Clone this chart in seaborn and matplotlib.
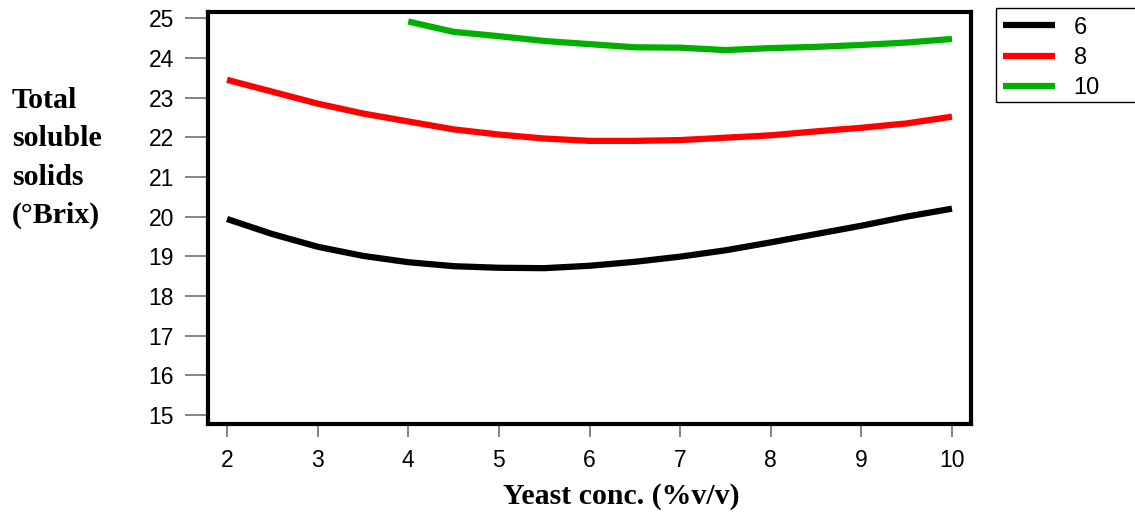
import numpy as np
import pandas as pd
import matplotlib
matplotlib.use("Agg")
import matplotlib.pyplot as plt
from matplotlib.patches import Rectangle
import seaborn as sns

# ---- data ----
x_full = [2, 2.5, 3, 3.5, 4, 4.5, 5, 5.5, 6, 6.5, 7, 7.5, 8, 8.5, 9, 9.5, 10]
tss_6 = [19.94, 19.56, 19.24, 19.01, 18.85, 18.75, 18.71, 18.70, 18.76, 18.86,
         18.99, 19.15, 19.35, 19.56, 19.77, 20.00, 20.20]
tss_8 = [23.45, 23.15, 22.85, 22.60, 22.40, 22.20, 22.07, 21.97, 21.91, 21.91,
         21.93, 21.99, 22.05, 22.15, 22.24, 22.35, 22.52]
x_10 = [4, 4.5, 5, 5.5, 6, 6.5, 7, 7.5, 8, 8.5, 9, 9.5, 10]
tss_10 = [24.92, 24.66, 24.55, 24.43, 24.35, 24.27, 24.26, 24.20, 24.25, 24.28,
          24.33, 24.39, 24.48]
series_labels = ["6", "8", "10"]
x_ticks = [2, 3, 4, 5, 6, 7, 8, 9, 10]
y_ticks = [15, 16, 17, 18, 19, 20, 21, 22, 23, 24, 25]
x_label = "Yeast conc. (%v/v)"
y_label = "Total\nsoluble\nsolids\n(°Brix)"

df = pd.concat([
    pd.DataFrame({"x": x_full, "y": tss_6, "s": series_labels[0]}),
    pd.DataFrame({"x": x_full, "y": tss_8, "s": series_labels[1]}),
    pd.DataFrame({"x": x_10, "y": tss_10, "s": series_labels[2]}),
])

sns.set_style("white")
plt.rcParams["font.family"] = ["Liberation Sans", "DejaVu Sans"]
plt.rcParams["text.color"] = "black"

fig = plt.figure(figsize=(11.35, 5.19), dpi=100)
ax = fig.add_axes([208 / 1135, 1 - 424 / 519, (971 - 208) / 1135, (424 - 12) / 519])

palette = {"6": "#000000", "8": "#ff0000", "10": "#00b000"}
sns.lineplot(data=df, x="x", y="y", hue="s", hue_order=series_labels,
             palette=palette, linewidth=4.5, ax=ax, legend=True,
             solid_capstyle="butt")

ax.set_xlim(1.79, 10.21)
ax.set_ylim(14.77, 25.16)
ax.set_xticks(x_ticks)
ax.set_yticks(y_ticks)
ax.set_xticklabels([str(v) for v in x_ticks])
ax.set_yticklabels([str(v) for v in y_ticks])
ax.set_xlabel("")
ax.set_ylabel("")

for sp in ax.spines.values():
    sp.set_visible(True)
    sp.set_color("black")
    sp.set_linewidth(3)

ax.tick_params(axis="y", which="major", direction="out", length=16.5, width=1.2,
               color="#707070", labelsize=16.5, pad=8, labelcolor="black", left=True)
ax.tick_params(axis="x", which="major", direction="out", length=9.5, width=1.2,
               color="#707070", labelsize=16.5, pad=8.5, labelcolor="black", bottom=True)

# legend
handles, labels = ax.get_legend_handles_labels()
leg = ax.legend(handles, labels, loc="upper left",
                bbox_to_anchor=(998 / 1135, 1 - 12 / 519),
                bbox_transform=fig.transFigure, frameon=False,
                fontsize=17, handlelength=2.2, handletextpad=0.8,
                labelspacing=0.35, borderpad=0.2, borderaxespad=0)
for line in leg.get_lines():
    line.set_linewidth(4.5)
fig.add_artist(Rectangle((996 / 1135, 1 - 102 / 519), 150 / 1135, 94 / 519,
                         transform=fig.transFigure, fill=False,
                         edgecolor="black", linewidth=1, clip_on=False))

# axis titles
serif = ["Liberation Serif", "DejaVu Serif"]
fig.text(12 / 1135, 1 - 158 / 519, y_label, ha="left", va="center",
         fontsize=21.5, fontweight="bold", family=serif, linespacing=1.55)
fig.text(621 / 1135, 1 - 497 / 519, x_label, ha="center", va="center",
         fontsize=21.5, fontweight="bold", family=serif)

fig.savefig("out.png", dpi=100)
